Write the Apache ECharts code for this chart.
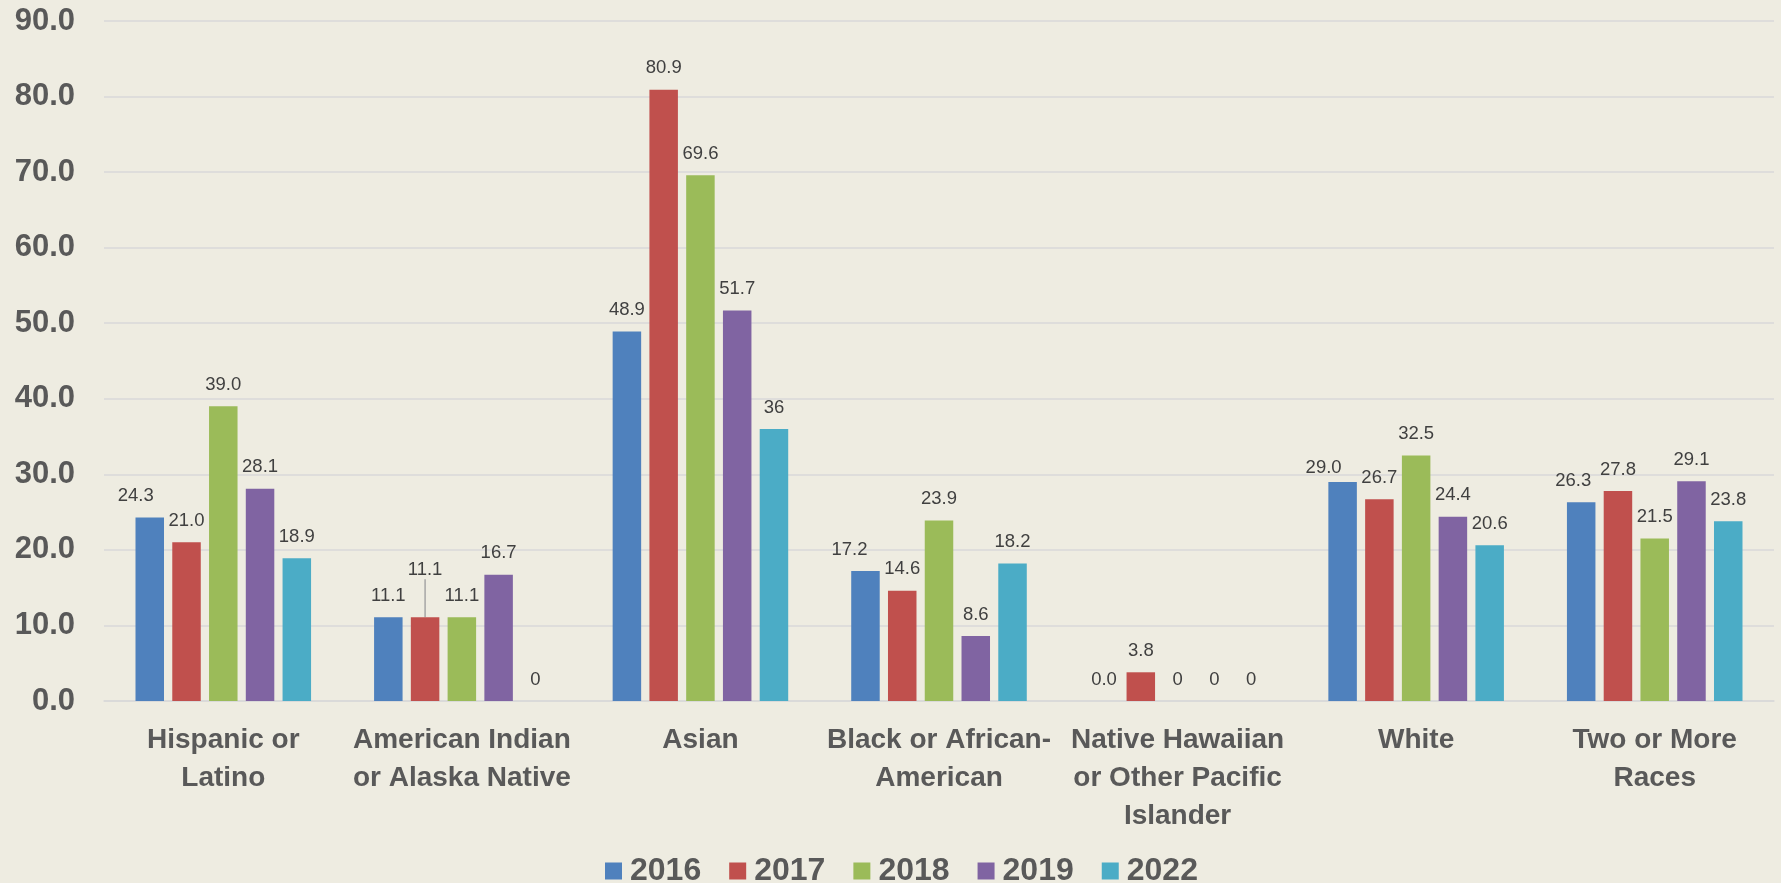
<!DOCTYPE html>
<html>
<head>
<meta charset="utf-8">
<title>Chart</title>
<script src="https://cdn.jsdelivr.net/npm/echarts@6.0.0/dist/echarts.min.js"></script>
<style>
    html, body { margin: 0; padding: 0; background: #EEECE1; }
    #main { width: 1781px; height: 883px; }
</style>
</head>
<body>
<div id="main"></div>
<script>
// 类别 / 年份
var categories = ['Hispanic or\nLatino', 'American Indian\nor Alaska Native', 'Asian', 'Black or African-\nAmerican',
    'Native Hawaiian\nor Other Pacific\nIslander', 'White', 'Two or More\nRaces'];
var years = ['2016', '2017', '2018', '2019', '2022'];
var yTicks = [0, 10, 20, 30, 40, 50, 60, 70, 80, 90];

// values kept as shown on the labels
var v2016 = ['24.3', '11.1', '48.9', '17.2', '0.0', '29.0', '26.3'];
var v2017 = ['21.0', '11.1', '80.9', '14.6', '3.8', '26.7', '27.8'];
var v2018 = ['39.0', '11.1', '69.6', '23.9', '0', '32.5', '21.5'];
var v2019 = ['28.1', '16.7', '51.7', '8.6', '0', '24.4', '29.1'];
var v2022 = ['18.9', '0', '36', '18.2', '0', '20.6', '23.8'];

var colors = ['#4F81BD', '#C0504D', '#9BBB59', '#8064A2', '#4BACC6'];
// labels that were dragged in the original: 'year|categoryIndex' -> [dx, dy]
var labelShift = {
    '2016|0': [-14, 0],
    '2016|3': [-16, 0],
    '2016|5': [-19, 8],
    '2016|6': [-8, 0],
    '2017|1': [0, -26]
};
// label pulled away from its bar, drawn with a leader line
var leaderLines = ['2017|1'];

function buildSeries() {
    var all = [v2016, v2017, v2018, v2019, v2022];
    var list = [];
    for (var i = 0; i < years.length; i++) {
        var year = years[i];
        var data = all[i].map(function (s, j) {
            var item = {value: parseFloat(s), raw: s};
            if (leaderLines.indexOf(year + '|' + j) > -1) {
                item.labelLine = {show: true};
            }
            return item;
        });
        list.push({
            name: year,
            type: 'bar',
            barWidth: 28.5,
            barGap: '29%',
            data: data,
            itemStyle: {color: colors[i]},
            label: {
                show: true,
                position: 'top',
                distance: 12,
                color: '#404040',
                fontSize: 18.5,
                fontFamily: "'Liberation Sans', Arial, sans-serif",
                formatter: function (p) {
                    return p.data.raw;
                }
            },
            labelLine: {show: false, lineStyle: {color: '#A6A6A6', width: 1.5}},
            labelLayout: (function (yr) {
                return function (p) {
                    var s = labelShift[yr + '|' + p.dataIndex];
                    if (!s) return {};
                    return {dx: s[0], dy: s[1]};
                };
            })(year)
        });
    }
    return list;
}

function myChart(id) {
    var chart = echarts.init(document.getElementById(id));
    var option = {
        backgroundColor: '#EEECE1',
        animation: false,
        color: colors,
        grid: {left: 104, right: 7, top: 21, bottom: 182, containLabel: false},
        legend: {
            data: years,
            left: 600,
            top: 850,
            itemWidth: 17,
            itemHeight: 17,
            itemGap: 28,
            icon: 'rect',
            textStyle: {
                color: '#595959',
                fontSize: 32,
                fontWeight: 'bold',
                fontFamily: "'Liberation Sans', Arial, sans-serif",
                padding: [0, 0, 0, 3]
            }
        },
        xAxis: {
            type: 'category',
            data: categories,
            axisTick: {show: false},
            axisLine: {show: true, lineStyle: {color: '#D9D9D9', width: 1.5}},
            axisLabel: {
                margin: 20,
                color: '#595959',
                fontSize: 28,
                lineHeight: 38,
                fontWeight: 'bold',
                fontFamily: "'Liberation Sans', Arial, sans-serif",
                interval: 0
            }
        },
        yAxis: {
            type: 'value',
            min: yTicks[0],
            max: yTicks[yTicks.length - 1],
            interval: 10,
            axisLine: {show: false},
            axisTick: {show: false},
            splitLine: {lineStyle: {color: '#D9D9D9', width: 1.5}},
            axisLabel: {
                margin: 29,
                color: '#595959',
                fontSize: 31,
                fontWeight: 'bold',
                fontFamily: "'Liberation Sans', Arial, sans-serif",
                formatter: function (v) {
                    return v.toFixed(1);
                }
            }
        },
        series: buildSeries()
    };
    chart.setOption(option);
}

myChart('main');
</script>
</body>
</html>
